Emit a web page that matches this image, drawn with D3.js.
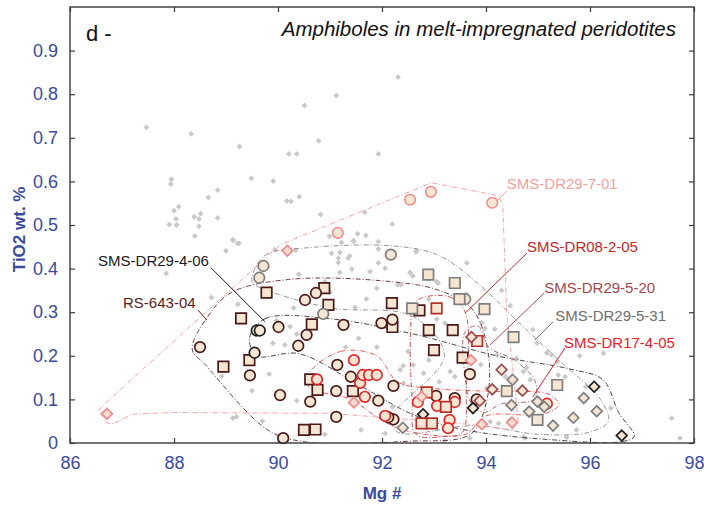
<!DOCTYPE html>
<html>
<head>
<meta charset="utf-8">
<script src="https://cdn.jsdelivr.net/npm/d3@7"></script>
<style>
  html, body { margin: 0; padding: 0; background: #fff; }
  svg { display: block; font-family: "Liberation Sans", Arial, sans-serif; }
</style>
</head>
<body>
<svg id="chart" width="704" height="505"></svg>
<script>
// ---- axis ticks ----
const xTicks = [86, 88, 90, 92, 94, 96, 98];
const yTicks = [0, 0.1, 0.2, 0.3, 0.4, 0.5, 0.6, 0.7, 0.8, 0.9];

// ---- literature amphiboles (grey background field): [Mg#, TiO2] ----
const litMg = [
  87.47, 88.33, 89.26, 87.95, 87.94, 89.49, 88.84, 88.66, 88.00, 88.09, 88.51, 88.39, 88.48, 88.04,
  87.91, 88.05, 88.84, 88.48, 88.40, 89.14, 89.25, 89.00, 87.85, 88.72, 89.23, 88.92, 89.13,
  92.31, 91.12, 90.51, 90.78, 90.21, 90.36, 91.93, 89.91, 90.17, 90.25, 90.41, 90.82, 91.67, 92.20,
  90.99, 91.53, 91.69, 91.45, 91.93, 91.93, 92.67, 90.34, 91.19, 91.16, 91.35,
  89.22, 89.13, 91.22, 91.46, 91.38, 91.03, 91.16, 91.93, 89.94, 90.40, 91.19, 91.42, 91.77, 92.06,
  92.54, 92.59, 92.30, 91.48, 89.97, 90.23, 90.36, 89.90, 90.13, 89.83, 90.36, 92.41, 93.05, 93.08,
  89.20, 93.63, 92.65, 92.36, 93.05, 93.21, 93.62, 93.92, 93.98, 94.17, 94.21, 94.59, 93.40, 93.31,
  92.60, 92.35, 92.41, 92.20, 94.01, 94.14, 94.72, 94.85, 94.46, 94.08, 94.24, 94.72, 92.06,
  94.47, 94.98, 95.17, 95.26, 96.26, 95.37, 95.39, 95.52, 94.78, 95.92, 94.37, 97.57, 97.73, 94.75,
  95.55, 95.74, 93.69, 90.90, 91.00, 91.70, 91.90, 92.90, 90.30, 91.55, 91.90, 92.50, 92.90, 93.10,
  91.30, 89.50, 89.70, 90.90, 91.60, 93.20, 94.90, 95.80, 96.40, 94.30, 93.90, 92.80
];
const litTi = [
  0.724, 0.709, 0.680, 0.605, 0.594, 0.607, 0.580, 0.563, 0.533, 0.542, 0.526, 0.519, 0.514, 0.514,
  0.501, 0.500, 0.516, 0.497, 0.475, 0.465, 0.458, 0.441, 0.389, 0.334, 0.318, 0.153, 0.057,
  0.839, 0.797, 0.774, 0.693, 0.663, 0.663, 0.663, 0.601, 0.555, 0.554, 0.565, 0.524, 0.529, 0.502,
  0.474, 0.480, 0.476, 0.464, 0.462, 0.413, 0.440, 0.442, 0.437, 0.424, 0.424,
  0.458, 0.466, 0.460, 0.462, 0.429, 0.435, 0.414, 0.445, 0.443, 0.387, 0.391, 0.399, 0.393, 0.401,
  0.391, 0.383, 0.363, 0.311, 0.281, 0.267, 0.250, 0.229, 0.225, 0.158, 0.097, 0.177, 0.284, 0.367,
  0.060, 0.413, 0.439, 0.363, 0.370, 0.275, 0.342, 0.276, 0.263, 0.261, 0.202, 0.194, 0.152, 0.164,
  0.179, 0.168, 0.137, 0.083, 0.126, 0.118, 0.164, 0.145, 0.053, 0.049, 0.045, 0.014, 0.022,
  0.315, 0.229, 0.207, 0.202, 0.206, 0.187, 0.156, 0.152, 0.173, 0.129, 0.152, 0.057, 0.011, 0.011,
  0.013, 0.030, 0.011, 0.370, 0.345, 0.330, 0.355, 0.330, 0.310, 0.240, 0.220, 0.210, 0.190, 0.140,
  0.220, 0.120, 0.050, 0.020, 0.030, 0.005, 0.260, 0.200, 0.080, 0.350, 0.180, 0.160
];

// ---- sample analyses: [Mg#, TiO2, symbol] (c = circle, s = square, d = diamond) ----
const rs64304 = [
  [89.29,0.286,"s"],[88.95,0.175,"s"],[89.45,0.190,"s"],[89.78,0.345,"s"],[90.89,0.355,"s"],
  [90.97,0.317,"s"],[90.65,0.272,"s"],[92.19,0.321,"s"],[92.20,0.266,"s"],[92.72,0.304,"s"],
  [92.90,0.259,"s"],[93.36,0.259,"s"],[93.00,0.213,"s"],[93.55,0.196,"s"],[90.62,0.146,"s"],
  [90.76,0.122,"s"],[91.44,0.119,"s"],[90.50,0.030,"s"],[90.72,0.031,"s"],
  [88.50,0.220,"c"],[90.52,0.328,"c"],[90.73,0.344,"c"],[91.26,0.271,"c"],[90.01,0.266,"c"],
  [90.55,0.248,"c"],[90.39,0.223,"c"],[91.99,0.275,"c"],[92.20,0.283,"c"],[89.46,0.155,"c"],
  [91.14,0.179,"c"],[91.40,0.152,"c"],[92.22,0.131,"c"],[90.04,0.110,"c"],[91.12,0.119,"c"],
  [90.62,0.095,"c"],[91.93,0.097,"c"],[91.12,0.060,"c"],[90.10,0.011,"c"],[92.22,0.054,"c"],
  [93.04,0.108,"c"],[93.40,0.103,"c"],[93.69,0.158,"c"],[93.82,0.100,"c"],[92.12,0.059,"c"]
];
const dr29406 = [
  [89.59,0.258,"c"],[89.65,0.258,"c"],[89.55,0.207,"c"],
  [92.79,0.066,"d"],[93.75,0.080,"d"],[96.08,0.129,"d"],[96.61,0.017,"d"]
];
const dr17405 = [
  [91.46,0.190,"c"],[90.75,0.146,"c"],[91.58,0.138,"c"],[91.63,0.156,"c"],[91.75,0.156,"c"],
  [91.90,0.156,"c"],[91.67,0.106,"c"],[92.06,0.062,"c"],[92.69,0.094,"c"],[93.06,0.085,"c"],
  [93.40,0.094,"c"],[93.30,0.053,"c"],[93.27,0.034,"c"],[95.17,0.090,"c"]
];
const dr08205 = [
  [93.05,0.309,"s"],[92.86,0.116,"s"],[93.23,0.083,"s"],[92.76,0.045,"s"],[92.96,0.045,"s"],
  [93.83,0.234,"s"]
];
const dr29520 = [
  [93.72,0.243,"d"],[94.30,0.168,"d"],[94.12,0.123,"d"],[94.70,0.120,"d"],[93.88,0.097,"d"]
];
const dr29531 = [
  [89.72,0.406,"c"],[89.64,0.379,"c"],[92.17,0.432,"c"],[90.87,0.296,"c"],[93.60,0.330,"c"],
  [92.89,0.386,"s"],[93.40,0.367,"s"],[93.49,0.330,"s"],[92.58,0.309,"s"],[93.97,0.307,"s"],
  [94.53,0.243,"s"],[94.40,0.119,"s"],[95.37,0.133,"s"],[94.99,0.053,"s"],
  [92.40,0.035,"d"],[94.51,0.145,"d"],[94.49,0.087,"d"],[94.83,0.072,"d"],[94.99,0.095,"d"],
  [95.12,0.083,"d"],[95.29,0.040,"d"],[95.68,0.058,"d"],[95.88,0.103,"d"],[96.13,0.073,"d"]
];
const dr29701 = [
  [86.71,0.067,"d"],[90.18,0.441,"d"],[91.46,0.093,"d"],[92.76,0.106,"d"],[93.71,0.190,"d"],
  [93.92,0.043,"d"],[94.50,0.047,"d"],
  [91.15,0.482,"c"],[92.54,0.558,"c"],[92.94,0.576,"c"],[94.12,0.551,"c"]
];

// ---- compositional envelopes drawn round each sample: [Mg#, TiO2] ----
const hullRs64304 = [[88.35,0.215],[88.65,0.29],[89.1,0.345],[90.2,0.375],[92.0,0.372],[93.1,0.35],
  [93.75,0.305],[94.05,0.2],[94.0,0.09],[93.7,0.02],[92.5,0.004],[90.5,0.003],[89.8,0.03],[88.6,0.18]];
const hullDr29406 = [[89.45,0.24],[89.75,0.285],[91.0,0.285],[92.6,0.25],[94.2,0.2],[95.6,0.17],
  [96.25,0.145],[96.55,0.07],[96.85,0.015],[96.6,0.003],[95.2,0.008],[93.6,0.03],[92.6,0.065],
  [91.6,0.13],[90.4,0.205],[89.6,0.2]];
const hullDr17405 = [[90.6,0.16],[91.2,0.21],[91.9,0.2],[92.3,0.14],[93.0,0.125],[94.2,0.118],
  [95.2,0.112],[95.4,0.088],[95.1,0.066],[94.0,0.062],[93.6,0.02],[92.4,0.03],[91.9,0.06],
  [91.4,0.1],[90.6,0.128]];
const hullDr08205 = [[92.65,0.325],[93.3,0.335],[93.6,0.3],[93.62,0.12],[93.55,0.025],[93.2,0.015],
  [92.65,0.02],[92.58,0.1],[92.55,0.25]];
const hullDr29520 = [[93.6,0.255],[93.85,0.268],[94.05,0.22],[94.55,0.19],[94.95,0.14],[94.92,0.1],
  [94.3,0.09],[93.95,0.07],[93.72,0.09],[93.6,0.15]];
const hullDr29531 = [[89.5,0.37],[89.75,0.43],[90.6,0.448],[92.2,0.452],[93.1,0.43],[93.9,0.36],
  [94.6,0.28],[95.4,0.19],[96.2,0.1],[96.35,0.05],[96.0,0.025],[95.0,0.02],[93.8,0.04],[92.3,0.025],
  [92.2,0.06],[93.2,0.2],[92.6,0.29],[91.0,0.31],[89.8,0.35]];
const hullDr29701 = [[86.55,0.075],[86.62,0.085],[90.05,0.455],[92.95,0.597],[94.2,0.568],[94.32,0.55],
  [94.4,0.3],[94.62,0.05],[94.5,0.03],[93.5,0.045],[91.0,0.068],[88.0,0.07],[87.2,0.066],
  [86.85,0.045],[86.72,0.045]];

// ---- sample names ----
const sampleNames = ["RS-643-04", "SMS-DR29-4-06", "SMS-DR17-4-05", "SMS-DR08-2-05",
                     "SMS-DR29-5-20", "SMS-DR29-5-31", "SMS-DR29-7-01"];

// drawing styles and label anchors (in data units) for each sample
const samples = [
  { name: sampleNames[0], pts: rs64304, hull: hullRs64304, edge: "#4a1a1a", hullCol: "#5a2a2a",
    text: "#5a1c1c", label: [87.02, 0.309], leader: [[88.46,0.305],[88.63,0.282]], smooth: true },
  { name: sampleNames[1], pts: dr29406, hull: hullDr29406, edge: "#1e1e1e", hullCol: "#333",
    text: "#1a1a1a", label: [86.54, 0.407], leader: [[88.71,0.402],[89.75,0.278]], smooth: true },
  { name: sampleNames[2], pts: dr17405, hull: hullDr17405, edge: "#e4262a", hullCol: "#e84a4a",
    text: "#e8202a", label: [95.50, 0.219], leader: [[95.52,0.218],[94.90,0.106]], smooth: true },
  { name: sampleNames[3], pts: dr08205, hull: hullDr08205, edge: "#b3302a", hullCol: "#c04040",
    text: "#c0282a", label: [94.79, 0.437], leader: [[94.79,0.436],[93.60,0.298]], smooth: true },
  { name: sampleNames[4], pts: dr29520, hull: hullDr29520, edge: "#9c4a50", hullCol: "#a05a5e",
    text: "#a0484c", label: [95.12, 0.345], leader: [[95.12,0.344],[94.08,0.225]], smooth: true },
  { name: sampleNames[5], pts: dr29531, hull: hullDr29531, edge: "#7e7e7e", hullCol: "#8a8a8a",
    text: "#6e6e6e", label: [95.33, 0.279], leader: [[95.29,0.278],[94.94,0.236]], smooth: true },
  { name: sampleNames[6], pts: dr29701, hull: hullDr29701, edge: "#f08a8a", hullCol: "#f09a9a",
    text: "#f4a0a0", label: [94.40, 0.583], leader: [[94.40,0.578],[94.22,0.556]], smooth: false }
];

// ---- layout ----
const W = 704, H = 505;
const plot = { left: 70, right: 694, top: 7, bottom: 443 };
const axisBlue = "#3a4a9c";
const fill = "#f5e6d3";

const x = d3.scaleLinear().domain([86, 98]).range([plot.left, plot.right]);
const y = d3.scaleLinear().domain([0, 1]).range([plot.bottom, plot.top]);

const svg = d3.select("#chart");

svg.append("defs").append("clipPath").attr("id", "plotClip")
  .append("rect").attr("x", plot.left).attr("y", plot.top)
  .attr("width", plot.right - plot.left).attr("height", plot.bottom - plot.top);

// background literature field
const gLit = svg.append("g").attr("clip-path", "url(#plotClip)");
gLit.selectAll("path").data(d3.range(litMg.length)).join("path")
  .attr("d", d3.symbol(d3.symbolSquare, 17)())
  .attr("transform", i => `translate(${x(litMg[i])},${y(litTi[i])}) rotate(45)`)
  .attr("fill", "#c9c9c9");

// envelopes
const smoothLine = d3.line().x(d => x(d[0])).y(d => y(d[1]))
  .curve(d3.curveCatmullRomClosed.alpha(0.5));
const straightLine = d3.line().x(d => x(d[0])).y(d => y(d[1]))
  .curve(d3.curveLinearClosed);
const gHull = svg.append("g").attr("clip-path", "url(#plotClip)");
samples.forEach(s => {
  gHull.append("path").attr("d", (s.smooth ? smoothLine : straightLine)(s.hull))
    .attr("fill", "none").attr("stroke", s.hullCol).attr("stroke-width", 0.9)
    .attr("stroke-dasharray", "5,2,1,2");
});

// leader lines
samples.forEach(s => {
  svg.append("line")
    .attr("x1", x(s.leader[0][0])).attr("y1", y(s.leader[0][1]))
    .attr("x2", x(s.leader[1][0])).attr("y2", y(s.leader[1][1]))
    .attr("stroke", s.text).attr("stroke-width", 1);
});

// sample symbols
const sym = {
  c: d3.symbol(d3.symbolCircle, Math.PI * 5.3 * 5.3)(),
  s: d3.symbol(d3.symbolSquare, 10.5 * 10.5)(),
  d: d3.symbol(d3.symbolSquare, 7.6 * 7.6)()
};
samples.forEach(s => {
  const pale = s.name === "SMS-DR29-7-01";
  svg.append("g").selectAll("path").data(s.pts).join("path")
    .attr("d", p => sym[p[2]])
    .attr("transform", p => `translate(${x(p[0])},${y(p[1])})` + (p[2] === "d" ? " rotate(45)" : ""))
    .attr("fill", p => (pale && p[2] === "d") ? "#fbdacf" : fill)
    .attr("stroke", s.edge)
    .attr("stroke-width", p => p[2] === "c" && pale ? 1.5 : 1.7);
});

// sample labels
samples.forEach(s => {
  svg.append("text").attr("x", x(s.label[0])).attr("y", y(s.label[1]))
    .attr("font-size", 15).attr("fill", s.text).text(s.name);
});

// frame
svg.append("rect").attr("x", plot.left).attr("y", plot.top)
  .attr("width", plot.right - plot.left).attr("height", plot.bottom - plot.top)
  .attr("fill", "none").attr("stroke", "#3a3a3a").attr("stroke-width", 1.4);

// axes with inward ticks on all four sides
const tickCol = "#3a3a3a";
const gx = svg.append("g").attr("transform", `translate(0,${plot.bottom})`)
  .call(d3.axisBottom(x).tickValues(xTicks).tickSize(-5).tickPadding(13).tickFormat(d3.format("d")));
const gxt = svg.append("g").attr("transform", `translate(0,${plot.top})`)
  .call(d3.axisTop(x).tickValues(xTicks).tickSize(-5).tickFormat(""));
const gy = svg.append("g").attr("transform", `translate(${plot.left},0)`)
  .call(d3.axisLeft(y).tickValues(yTicks).tickSize(-5).tickPadding(12)
    .tickFormat(d => d === 0 ? "0" : d3.format(".1f")(d)));
const gyr = svg.append("g").attr("transform", `translate(${plot.right},0)`)
  .call(d3.axisRight(y).tickValues(yTicks).tickSize(-5).tickFormat(""));
[gx, gxt, gy, gyr].forEach(g => {
  g.select(".domain").remove();
  g.selectAll(".tick line").attr("stroke", tickCol).attr("stroke-width", 1.2);
  g.selectAll("text").attr("fill", axisBlue).attr("font-size", 18)
    .attr("font-family", "Liberation Sans, Arial, sans-serif");
});

// axis titles
svg.append("text").attr("x", x(92)).attr("y", 499)
  .attr("text-anchor", "middle").attr("font-size", 17).attr("font-weight", "bold")
  .attr("fill", axisBlue).text("Mg #");
svg.append("text").attr("transform", `translate(25,${y(0.49)}) rotate(-90)`)
  .attr("text-anchor", "middle").attr("font-size", 17).attr("font-weight", "bold")
  .attr("fill", axisBlue).text("TiO2 wt. %");

// panel letter and title
svg.append("text").attr("x", 86).attr("y", 41).attr("font-size", 22).attr("fill", "#111").text("d -");
svg.append("text").attr("x", 676).attr("y", 36).attr("text-anchor", "end")
  .attr("font-size", 20.5).attr("font-style", "italic").attr("fill", "#111")
  .text("Amphiboles in melt-impregnated peridotites");
</script>
</body>
</html>
